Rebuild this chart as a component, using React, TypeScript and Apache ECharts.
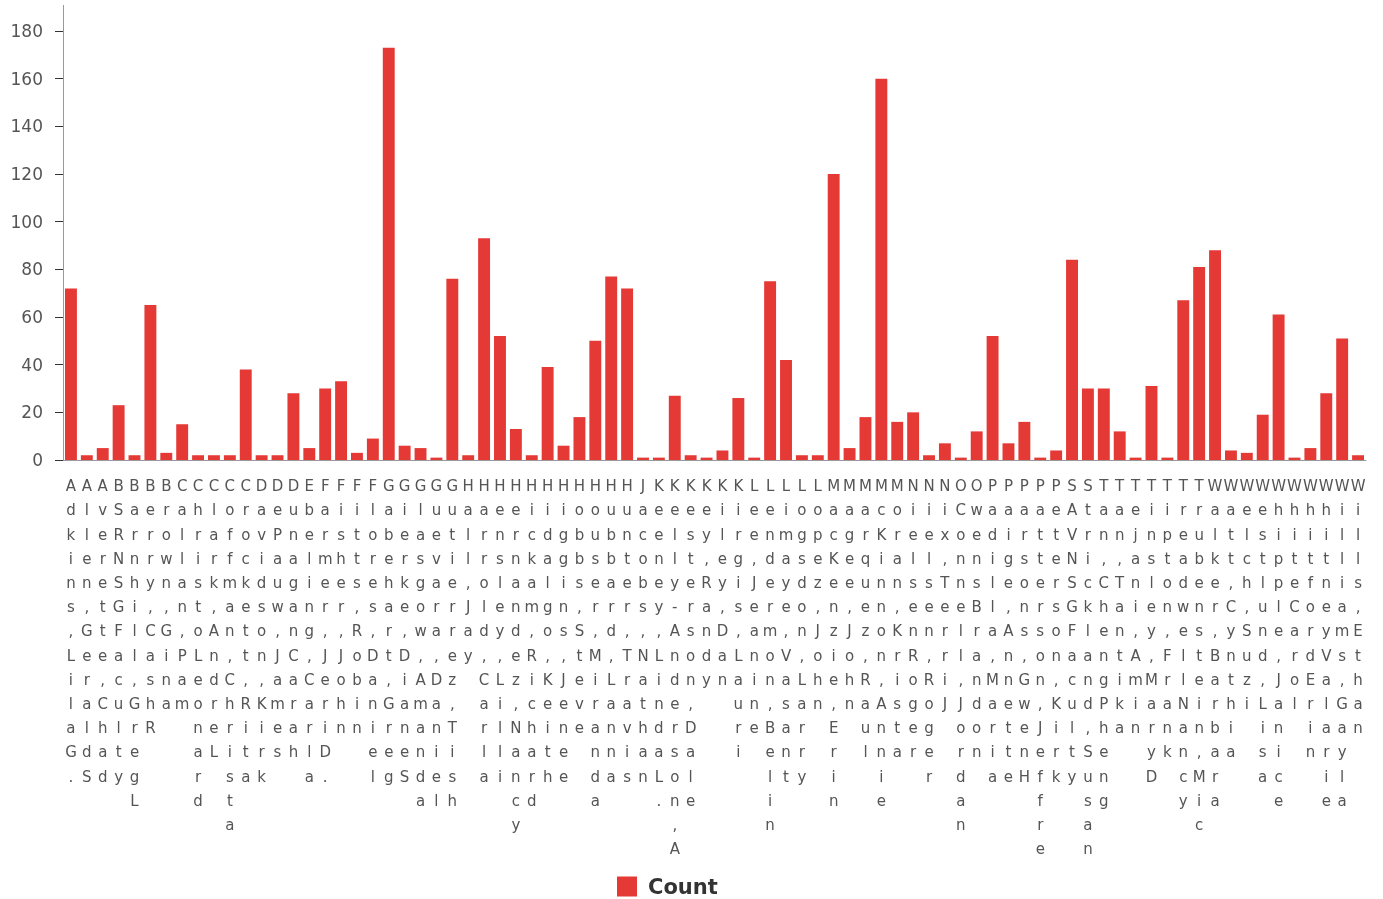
import React, { useEffect, useRef } from 'react';
import * as echarts from 'echarts';

const categories = [
  'Adkins, Lila G.', 'Allen, Gerald S', 'Averette, Chad', 'BSRNSG Faculty', 'Barnhill, Greg L',
  'Berry, Cash R', 'Brown, Gina', 'Callan, Pam', 'Christo Leonard', 'Clark, Andre L',
  'Coffman, Christa', 'Crockett, Rita', 'Davidson, Kirk', 'DePauw, James', 'Dunagan Carah',
  'Ebeling, Carla', 'Farmer, Jeri D.', 'Fisher, John', 'Fitts, Robin', 'Flores, Daniel',
  'Gabehart, Greg', 'Gierke, Diane S', 'Glasgow, Amanda', 'Guevara, Daniel', 'Gutierrez, Tish',
  'Hall, Jay', 'Harrold, Carla', 'Hensley, Lilli', 'Hernandez, Nancy', 'Hickam, Richard',
  'Hidalgo, Keith', 'Higgins, Jenee', 'Hobbs, Steve', 'Houser, Miranda', 'Hubbard, Lanna',
  'Hunter, Travis', 'Jacobs, Nathan', 'Keeney, Linda L.', 'Kelly-Anderson, A', 'Kesterson, Dale',
  'Key, Randy', 'Kiley, Dan', 'Kirgis, Lauri', 'Lee, Jeanine', 'Lendermon, Belin',
  'Limaye, Vasant', 'Logsdon, Larry', 'Lopez, John', 'MacKenzie, Erin', 'Magee, John',
  'Marquez, Raul', 'McKinnon, Annie', 'Moran, Krista', 'Nielsen Roger', 'Nielsen, Roger',
  'Nix, Terri J', 'OConnell, Jordan', 'Owens Brandon', 'Padilla, Maria', 'Paige, Annette',
  'Parsons, Gwen H', 'Patterson, Jeffre', 'Peterson, Kirk', 'SAVNSG Faculty', 'Strickland, Susan',
  'Tan, Cheng Pheng', 'Tan, Tantika', 'Tejani, Amin', 'Tinsley, Mary D', 'Tipton, Frank',
  'Treadwell Nancy', 'Trubenstein, Mic', 'Walker, Barbara', 'Watt, Cynthia', 'Welch, Suzi',
  'Westlund, Lisa', 'Whipple, Janice', 'White Carol', 'Whitford Erin', 'Whitney Valarie',
  'Williams, Gayla', 'Wills, Ethan',
];

const counts = [
  72, 2, 5, 23, 2, 65, 3, 15, 2, 2,
  2, 38, 2, 2, 28, 5, 30, 33, 3, 9,
  173, 6, 5, 1, 76, 2, 93, 52, 13, 2,
  39, 6, 18, 50, 77, 72, 1, 1, 27, 2,
  1, 4, 26, 1, 75, 42, 2, 2, 120, 5,
  18, 160, 16, 20, 2, 7, 1, 12, 52, 7,
  16, 1, 4, 84, 30, 30, 12, 1, 31, 1,
  67, 81, 88, 4, 3, 19, 61, 1, 5, 28,
  51, 2,
];

const seriesName = 'Count';
const yMin = 0;
const yMax = 180;
const yStep = 20;

export default function App() {
  const ref = useRef<HTMLDivElement>(null);
  useEffect(() => {
    const chart = echarts.init(ref.current!, null, { renderer: 'svg' });
    chart.setOption({
      animation: false,
      textStyle: { fontFamily: 'DejaVu Sans' },
      grid: { left: 63, right: 17, top: 31, bottom: 439 },
      legend: {
        data: [seriesName],
        left: 617,
        top: 876,
        padding: 0,
        itemWidth: 20,
        itemHeight: 20,
        icon: 'rect',
        textStyle: { fontSize: 21, fontWeight: 'bold', color: '#333', padding: [0, 0, 0, 6] },
      },
      xAxis: {
        type: 'category',
        data: categories,
        axisLine: { lineStyle: { color: '#999' } },
        axisTick: { length: 9, lineStyle: { color: '#333' } },
        axisLabel: {
          interval: 0,
          fontSize: 15,
          lineHeight: 24.2,
          color: '#555',
          margin: 14,
          formatter: (v: string) => v.replace(/\s/g, '').split('').join('\n'),
        },
      },
      yAxis: {
        type: 'value',
        min: yMin,
        max: yMax,
        interval: yStep,
        axisLine: { show: true, lineStyle: { color: '#999' } },
        axisTick: { show: true, length: 8, lineStyle: { color: '#333' } },
        splitLine: { show: false },
        axisLabel: { fontSize: 17, color: '#555', margin: 20 },
      },
      series: [
        {
          type: 'bar',
          name: seriesName,
          data: counts,
          barCategoryGap: '25%',
          itemStyle: { color: '#e53935' },
        },
      ],
      graphic: [
        {
          type: 'line',
          shape: { x1: 63.5, y1: 5, x2: 63.5, y2: 31 },
          style: { stroke: '#999', lineWidth: 1 },
        },
      ],
    });
    return () => chart.dispose();
  }, []);
  return (
    <div
      ref={ref}
      style={{ position: 'fixed', left: 0, top: 0, width: 1383, height: 899 }}
    />
  );
}
